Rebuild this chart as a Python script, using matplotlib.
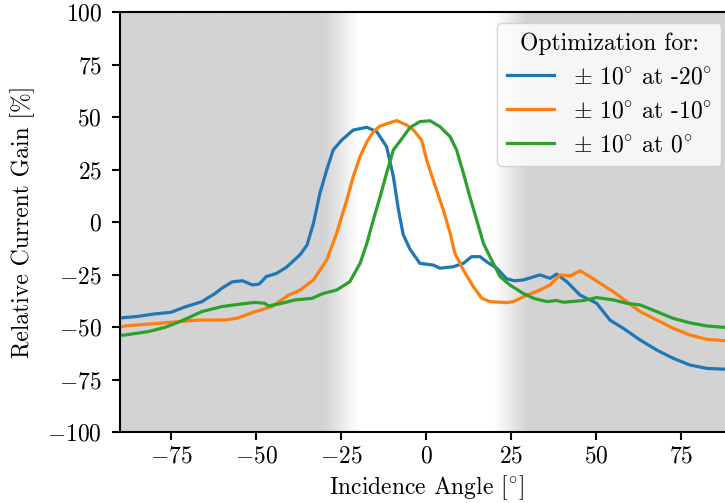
import numpy as np
import matplotlib
matplotlib.use("Agg")
import matplotlib.pyplot as plt
from matplotlib.colors import LinearSegmentedColormap

plt.rcParams["font.family"] = "serif"
plt.rcParams["font.serif"] = ["cmr10"]
plt.rcParams["mathtext.fontset"] = "cm"
plt.rcParams["axes.formatter.use_mathtext"] = True
plt.rcParams["font.size"] = 17

# Optimization for +-10 deg at -20 deg
blue_x = [-90, -85, -80, -75, -71, -66, -62, -60, -57, -54, -51, -49, -47, -44, -41,
          -37, -35, -33.1, -31.2, -29.2, -27.3, -24.8, -21.4, -17.4, -14.5, -11.6,
          -9.6, -8.1, -6.7, -4.7, -1.8, 2.1, 4.1, 8, 11, 13.4, 15.9, 17.8, 20.8,
          23.7, 26, 28.6, 33.5, 36.5, 38.4, 41.4, 45.3, 50.2, 54.1, 58, 63, 67.9,
          72.7, 77.6, 82.6, 87.9, 90]
blue_y = [-45.7, -45, -43.8, -43, -40.5, -38, -34, -31.5, -28.5, -28, -30, -29.5,
          -26, -24.5, -21.5, -15.5, -11, -0.6, 13.7, 24.8, 34.3, 39, 43.8, 45.1, 43,
          35.9, 21.6, 5.7, -6, -13, -19.7, -20.5, -22, -21.3, -19.7, -16.5, -16.5,
          -18.9, -22, -27, -28, -27.6, -25.2, -26.8, -24.8, -28.4, -34.8, -38.7,
          -46.7, -50.6, -56.2, -61, -64.9, -68.1, -69.7, -70.1, -70.2]

# Optimization for +-10 deg at -10 deg
orange_x = [-90, -88.5, -76.8, -67, -59, -55.3, -50.3, -45.3, -40.6, -37, -33.1,
            -29.2, -26.3, -23.3, -21.4, -19.4, -17.4, -15.5, -13.5, -10.6, -8.6,
            -5.7, -3.7, -1.3, 0.2, 2.1, 5.1, 7.1, 8.5, 11, 13.9, 16.4, 18.8, 23.7,
            25.7, 28.6, 33.5, 36.5, 39.4, 42.4, 45.3, 48.2, 51.2, 55.1, 59, 63,
            67.9, 72.7, 77.6, 82.6, 87.9, 90]
orange_y = [-50, -49.5, -48, -46.7, -46.7, -45.7, -42.7, -40.3, -35, -32.4, -27.6,
            -18.1, -5.4, 10.5, 21.6, 31.1, 38.2, 43, 45.7, 47.3, 48.3, 46.2, 43.8,
            39, 29.5, 20, 5.7, -5.4, -14.9, -22.9, -30.8, -36.3, -37.9, -38.4, -37.9,
            -35.6, -32.4, -30, -25.2, -25.7, -23.2, -26, -29.2, -33.2, -37.9, -42.7,
            -46.7, -50.6, -53.8, -55.9, -56.5, -56.6]

# Optimization for +-10 deg at 0 deg
green_x = [-90, -88.5, -81.7, -76.8, -71.9, -66, -60.1, -54.2, -50.3, -47.4, -46.4,
           -42.4, -38.5, -33.6, -30.2, -26.3, -22.4, -19.4, -17.4, -15.5, -13.5,
           -11.6, -9.6, -7.6, -4.7, -1.8, 1.2, 4.1, 7.1, 9, 11, 12.9, 14.9, 16.9,
           18.8, 21.8, 24.7, 28.6, 31.6, 35.5, 38.4, 40.4, 46.3, 50.2, 55.1, 59,
           63, 67.9, 72.7, 77.6, 82.6, 87.9, 90]
green_y = [-54, -53.8, -52.2, -50.2, -47.1, -42.7, -40.3, -39, -38.3, -38.7, -40,
           -38.7, -37.1, -36.4, -34, -32.4, -28.4, -19.7, -10.2, 1, 12, 23.2, 34.3,
           38.6, 45, 47.8, 48.2, 45.4, 40.6, 34.3, 23.2, 12, 1, -10.2, -16.5, -26,
           -30, -34, -36.3, -37.9, -37.4, -38.2, -37.4, -36, -37.1, -38.7, -39.5,
           -42.7, -45.9, -48, -49.5, -50.2, -50.4]

labels = [r"$\pm$ $10^{\circ}$ at -$20^{\circ}$",
          r"$\pm$ $10^{\circ}$ at -$10^{\circ}$",
          r"$\pm$ $10^{\circ}$ at $0^{\circ}$"]

fig = plt.figure(figsize=(7.25, 5.03), dpi=100)
ax = fig.add_axes([120 / 725, 71 / 503, 612 / 725, 420 / 503])

# shaded background outside the optimized range, with soft edges
xs = np.linspace(-90, 90, 721)
shade = np.where(xs < 0, np.clip((-20 - xs) / 10, 0, 1), np.clip((xs - 20) / 10, 0, 1))
cmap = LinearSegmentedColormap.from_list("bg", ["white", "#d3d3d3"])
ax.imshow(shade[np.newaxis, :], extent=[-90, 90, -100, 100], aspect="auto",
          cmap=cmap, vmin=0, vmax=1, interpolation="bilinear", zorder=0)

ax.plot(blue_x, blue_y, color="tab:blue", lw=2.3, label=labels[0])
ax.plot(orange_x, orange_y, color="tab:orange", lw=2.3, label=labels[1])
ax.plot(green_x, green_y, color="tab:green", lw=2.3, label=labels[2])

ax.set_xlim(-90, 90)
ax.set_ylim(-100, 100)
ax.set_xticks([-75, -50, -25, 0, 25, 50, 75])
ax.set_yticks([-100, -75, -50, -25, 0, 25, 50, 75, 100])
ax.tick_params(length=6, width=1.5)
ax.tick_params(axis="y", pad=7)
for s in ax.spines.values():
    s.set_linewidth(1.5)

ax.set_xlabel(r"Incidence Angle $[^{\circ}]$")
ax.set_ylabel("Relative Current Gain [%]", labelpad=9)
ax.legend(title="Optimization for:", loc="upper right", title_fontsize=17,
          borderaxespad=0.45)

fig.savefig("out.png", dpi=100)
